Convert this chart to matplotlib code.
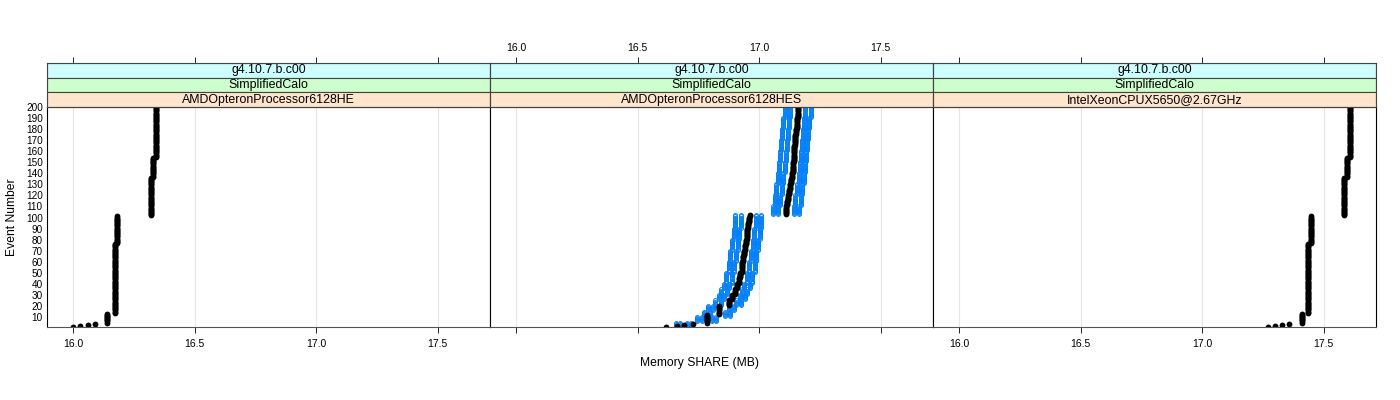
import numpy as np
import matplotlib.pyplot as plt
from matplotlib.patches import Rectangle

plt.rcParams['font.family'] = ['Liberation Sans', 'DejaVu Sans']

# panel labels (strip levels, top to bottom)
release = 'g4.10.7.b.c00'
app = 'SimplifiedCalo'
cpus = ['AMDOpteronProcessor6128HE', 'AMDOpteronProcessor6128HES', 'IntelXeonCPUX5650@2.67GHz']

x_ticks = [16.0, 16.5, 17.0, 17.5]
x_ticklabels = ['16.0', '16.5', '17.0', '17.5']
y_ticks = list(range(10, 201, 10))

# run-length coded Memory SHARE (MB) per event number 1..200
he_counts = [1, 1, 1, 1, 9, 63, 25, 35, 18, 46]
he_share = [16.00, 16.03, 16.06, 16.09, 16.14, 16.173, 16.182, 16.321, 16.330, 16.340]

intel_counts = [1, 1, 1, 1, 9, 63, 25, 35, 18, 46]
intel_share = [17.273, 17.300, 17.328, 17.359, 17.41, 17.437, 17.447, 17.586, 17.595, 17.609]

hes_counts = [1, 1, 1, 1, 8, 8] + [5] * 16 + [2, 3] + [5] * 19
hes_share = [16.616, 16.661, 16.691, 16.729, 16.785, 16.835,
             16.875, 16.890, 16.900, 16.910, 16.917, 16.923, 16.928, 16.932,
             16.936, 16.940, 16.943, 16.946, 16.949, 16.952, 16.956, 16.960,
             16.963, 17.110,
             17.113, 17.117, 17.121, 17.125, 17.128, 17.131, 17.135, 17.138,
             17.140, 17.142, 17.144, 17.146, 17.148, 17.150, 17.153, 17.155,
             17.157, 17.159, 17.162]

# other runs on the HES machine (blue), blocks of events
runs_counts = [5] * 8 + [10] * 5 + [12, 8] + [10] * 9
runs_share = [
    [16.660, 16.745, 16.775, 16.790, 16.820, 16.835, 16.845, 16.855, 16.865, 16.875, 16.882, 16.890, 16.896, 16.903,
     17.057, 17.064, 17.071, 17.078, 17.084, 17.088, 17.092, 17.096, 17.100, 17.105],
    [16.675, 16.765, 16.797, 16.812, 16.842, 16.857, 16.867, 16.877, 16.887, 16.897, 16.904, 16.912, 16.918, 16.925,
     17.079, 17.086, 17.093, 17.100, 17.106, 17.110, 17.114, 17.118, 17.122, 17.127],
    [16.705, 16.805, 16.860, 16.875, 16.905, 16.920, 16.930, 16.940, 16.950, 16.960, 16.967, 16.975, 16.981, 16.988,
     17.142, 17.149, 17.156, 17.163, 17.169, 17.173, 17.177, 17.181, 17.185, 17.190],
    [16.720, 16.825, 16.882, 16.897, 16.927, 16.942, 16.952, 16.962, 16.972, 16.982, 16.989, 16.997, 17.003, 17.010,
     17.164, 17.171, 17.178, 17.185, 17.191, 17.195, 17.199, 17.203, 17.207, 17.212],
]

events = np.arange(1, 201)
XLIM = (15.893, 17.716)
BLUE = '#0080ff'
STRIP_COLS = ['#ccffff', '#ccffcc', '#ffe5cc']

fig = plt.figure(figsize=(14, 4), dpi=100)

W = 1400.0
H = 400.0
lefts = [47, 490, 933]
pw = 443
plot_top, plot_bot = 107, 327
strip_top = 63

for i, cpu in enumerate(cpus):
    ax = fig.add_axes([lefts[i] / W, 1 - plot_bot / H, pw / W, (plot_bot - plot_top) / H])
    ax.set_xlim(XLIM)
    ax.set_ylim(1, 200)
    for xt in x_ticks:
        ax.axvline(xt, color='#e6e6e6', lw=0.8, zorder=0)

    if i == 0:
        ax.plot(np.repeat(he_share, he_counts), events, 'o', color='black', ms=4.2, mew=0)
    elif i == 2:
        ax.plot(np.repeat(intel_share, intel_counts), events, 'o', color='black', ms=4.2, mew=0)
    else:
        for run in runs_share:
            ax.plot(np.repeat(run, runs_counts), events, 'o', color=BLUE,
                    ms=2.8, mfc='none', mew=0.7)
        ax.plot(np.repeat(hes_share, hes_counts), events, 'o', color='black',
                ms=4.2, mew=0)

    ax.set_xticks(x_ticks)
    ax.set_yticks(y_ticks)
    ax.tick_params(axis='x', direction='out', length=4.3, width=0.6, colors='black',
                   labelsize=7.5, pad=4)
    ax.tick_params(axis='y', length=0, labelsize=7.2, pad=3)
    if i == 1:
        ax.set_xticklabels([])
    else:
        ax.set_xticklabels(x_ticklabels)
    if i != 0:
        ax.set_yticklabels([])
    for s in ax.spines.values():
        s.set_linewidth(0.8)
    ax.spines['bottom'].set_color('#555555')

    # strips with top axis
    sax = fig.add_axes([lefts[i] / W, 1 - plot_top / H, pw / W, (plot_top - strip_top) / H])
    sax.set_xlim(XLIM)
    sax.set_ylim(0, 3)
    for k, (lab, col) in enumerate(zip([release, app, cpu], STRIP_COLS)):
        sax.add_patch(Rectangle((XLIM[0], 2 - k), XLIM[1] - XLIM[0], 1, facecolor=col,
                                edgecolor='#444444', lw=0.8))
        sax.text(np.mean(XLIM), 2.5 - k, lab, ha='center', va='center', fontsize=8.9)
    sax.xaxis.tick_top()
    sax.set_xticks(x_ticks)
    sax.set_yticks([])
    sax.tick_params(axis='x', direction='out', length=4.3, width=0.6, labelsize=7.5, pad=3)
    if i == 1:
        sax.set_xticklabels(x_ticklabels)
    else:
        sax.set_xticklabels([])
    for s in sax.spines.values():
        s.set_linewidth(0.8)
        s.set_color('#444444')

fig.text(0.5, 1 - 363 / H, 'Memory SHARE (MB)', ha='center', va='center', fontsize=8.7)
fig.text(12 / W, 1 - 217 / H, 'Event Number', ha='center', va='center', rotation=90, fontsize=8.7)

fig.savefig('out.png', dpi=100, facecolor='white')
